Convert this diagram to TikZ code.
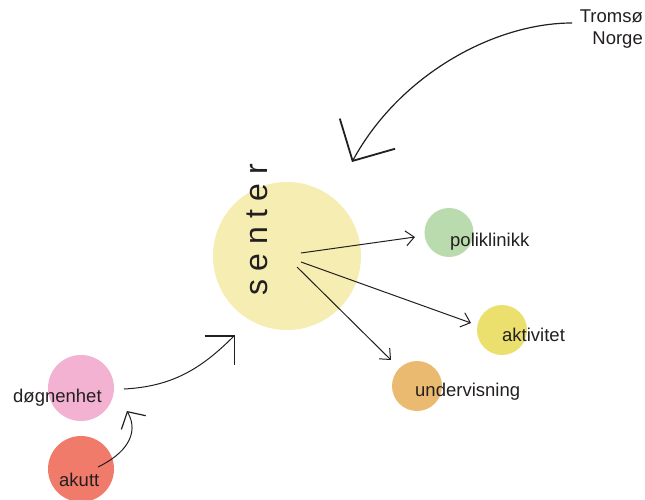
\documentclass[tikz,border=0pt]{standalone}
\usepackage{fontspec}
\setmainfont{Liberation Sans}
\usepackage{xcolor}
\usetikzlibrary{arrows.meta}

\definecolor{sentergul}{HTML}{F5EDB1}
\definecolor{poligronn}{HTML}{B9DBAD}
\definecolor{aktivgul}{HTML}{EBE06E}
\definecolor{underoransje}{HTML}{EABA70}
\definecolor{dognrosa}{HTML}{F4B2D2}
\definecolor{akuttrod}{HTML}{F07B6B}
\definecolor{tekst}{HTML}{231F20}

\begin{document}
\begin{tikzpicture}[x=1pt, y=1pt,
    blob/.style={circle, inner sep=0pt, minimum size=#1},
    lbl/.style={font=\fontsize{18.5}{22}\selectfont, text=tekst, inner sep=0pt},
    pil/.style={line width=1pt, draw=tekst, -{Straight Barb[length=8.5, width=15]}}]
            \useasboundingbox (0,0) rectangle (645,499);

            % Sirkler
            \node[blob=148, fill=sentergul] (senter) at (287,243) {};
            \node[blob=49, fill=poligronn] (poli) at (449,266.5) {};
            \node[blob=50, fill=aktivgul] (aktiv) at (502,169) {};
            \node[blob=50, fill=underoransje] (underv) at (417,113) {};
            \node[blob=66, fill=dognrosa] (dogn) at (81,111) {};
            \node[blob=66, fill=akuttrod] (akutt) at (81,30) {};

            % Tekster
            \node[rotate=90, text=tekst, inner sep=0pt, font=\fontsize{32}{32}\selectfont] (sentertekst) at (257,269)
                {s\hspace{8.5pt}e\hspace{8.5pt}n\hspace{8.5pt}t\hspace{8.5pt}e\hspace{8.5pt}r};
            \node[lbl, anchor=base west] (politekst) at (450,253) {poliklinikk};
            \node[lbl, anchor=base west] (aktivtekst) at (502,158) {aktivitet};
            \node[lbl, anchor=base west] (undervtekst) at (415,103) {undervisning};
            \node[lbl, anchor=base west] (dogntekst) at (13,97) {døgnenhet};
            \node[lbl, anchor=base west] (akutttekst) at (59,13) {akutt};
            \node[lbl, anchor=base east] (tromso) at (643,476) {Tromsø};
            \node[lbl, anchor=base east] (norge) at (643,454) {Norge};

            % Piler fra senter
            \coordinate (s1) at (301,246);
            \coordinate (s2) at (301,237);
            \coordinate (s3) at (297,232);
            \coordinate (p1) at (415,262);
            \coordinate (p2) at (471,176);
            \coordinate (p3) at (391,139);
            \draw[pil] (s1) -- (p1);
            \draw[pil] (s2) -- (p2);
            \draw[pil] (s3) -- (p3);

            % Stor pil fra Tromsø
            \coordinate (t1) at (572,476);
            \coordinate (t2) at (352,337);
            \draw[line width=1.2pt, draw=tekst, -{Straight Barb[length=31, width=63, line width=1.8pt]}]
                (t1) .. controls (495,476) and (400,425) .. (t2);

            % døgnenhet til senter
            \coordinate (d1) at (124,110);
            \coordinate (d2) at (235,164);
            \draw[line width=1pt, draw=tekst, -{Straight Barb[length=21, width=42, line width=1.5pt]}]
                (d1) to[out=3, in=-135] (d2);

            % akutt til døgnenhet
            \coordinate (a1) at (98,32);
            \coordinate (a2) at (127,88);
            \draw[line width=1pt, draw=tekst, -{Straight Barb[length=12.5, width=28, line width=1.2pt]}]
                (a1) .. controls (125,45) and (140,65) .. (a2);
        \end{tikzpicture}
\end{document}
